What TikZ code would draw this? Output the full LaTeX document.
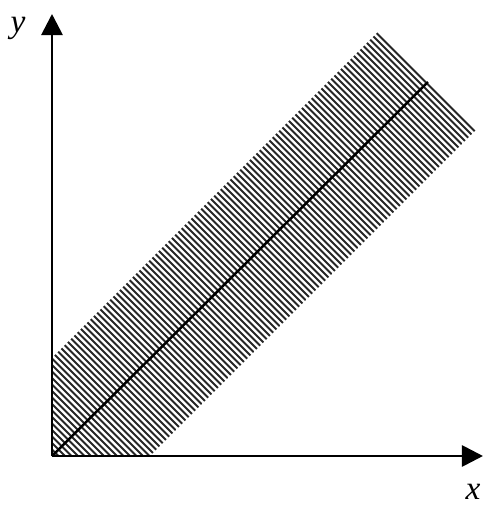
\documentclass[tikz,border=0pt]{standalone}
\usepackage{fontspec}
\setmainfont{Liberation Serif}
\usetikzlibrary{arrows.meta}
\begin{document}
\begin{tikzpicture}[x=0.02cm, y=0.02cm, font=\fontsize{19}{22}\selectfont\itshape]
      % Frame (keeps the margins)
      \useasboundingbox (-52,-49) rectangle (439,456);

      % Corners of the band
      \coordinate (O) at (0,0);
      \coordinate (bx) at (98,0);
      \coordinate (br) at (424,326);
      \coordinate (bt) at (326,424);
      \coordinate (by) at (0,98);
      \coordinate (mid) at (376,374);

      % Hatched band
      \begin{scope}
        \clip (O) -- (bx) -- (br) -- (bt) -- (by) -- cycle;
        \foreach \c in {0,6.5,...,760}
          \draw[line width=1.1pt, black!85] (\c+60,-60) -- (-60,\c+60);
      \end{scope}

      % Middle line
      \draw[line width=1.4pt] (O) -- (mid);

      % Axes
      \coordinate (xend) at (431,0);
      \coordinate (yend) at (0,442);
      \draw[line width=1.6pt, -{Triangle[length=12pt,width=12pt]}] (O) -- (xend);
      \draw[line width=1.6pt, -{Triangle[length=12pt,width=12pt]}] (O) -- (yend);

      % Axis labels
      \node (xlab) at (421,-36) {x};
      \node (ylab) at (-34,428) {y};
\end{tikzpicture}
\end{document}
